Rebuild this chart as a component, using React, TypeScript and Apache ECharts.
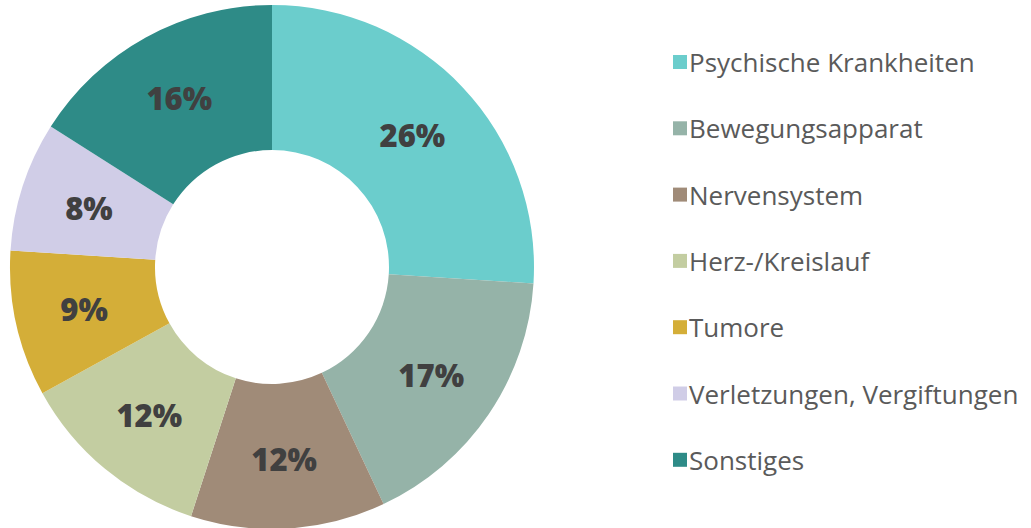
import React, { useEffect, useRef } from "react";
import * as echarts from "echarts";

const categories = [
  "Psychische Krankheiten",
  "Bewegungsapparat",
  "Nervensystem",
  "Herz-/Kreislauf",
  "Tumore",
  "Verletzungen, Vergiftungen",
  "Sonstiges",
];
const values = [26, 17, 12, 12, 9, 8, 16];
const colors = ["#6bcdcc", "#95b3a8", "#a08b78", "#c3cda1", "#d4ae38", "#d0cde7", "#2e8b87"];

export default function App() {
  const ref = useRef<HTMLDivElement>(null);
  useEffect(() => {
    document.body.style.margin = "0";
    const chart = echarts.init(ref.current!, null, { renderer: "svg" });
    chart.setOption({
      animation: false,
      color: colors,
      legend: {
        orient: "vertical",
        left: 668,
        top: 44,
        itemWidth: 14,
        itemHeight: 14,
        itemGap: 40.3,
        icon: "rect",
        selectedMode: false,
        textStyle: {
          fontFamily: "Open Sans",
          fontSize: 26,
          lineHeight: 24,
          color: "#5a5a5a",
          padding: [0, 0, 0, -3],
        },
        data: categories,
      },
      series: [
        {
          type: "pie",
          center: [272, 267],
          radius: [117, 262],
          startAngle: 90,
          clockwise: true,
          label: {
            show: true,
            position: "inside",
            formatter: "{c}%",
            fontFamily: "Open Sans",
            fontWeight: 800,
            fontSize: 31,
            color: "#404040",
          },
          labelLine: { show: false },
          itemStyle: { borderWidth: 0 },
          emphasis: { disabled: true },
          data: categories.map((n, i) => ({ name: n, value: values[i] })),
        },
      ],
    });
    return () => chart.dispose();
  }, []);
  return <div ref={ref} style={{ width: 1031, height: 528 }} />;
}
